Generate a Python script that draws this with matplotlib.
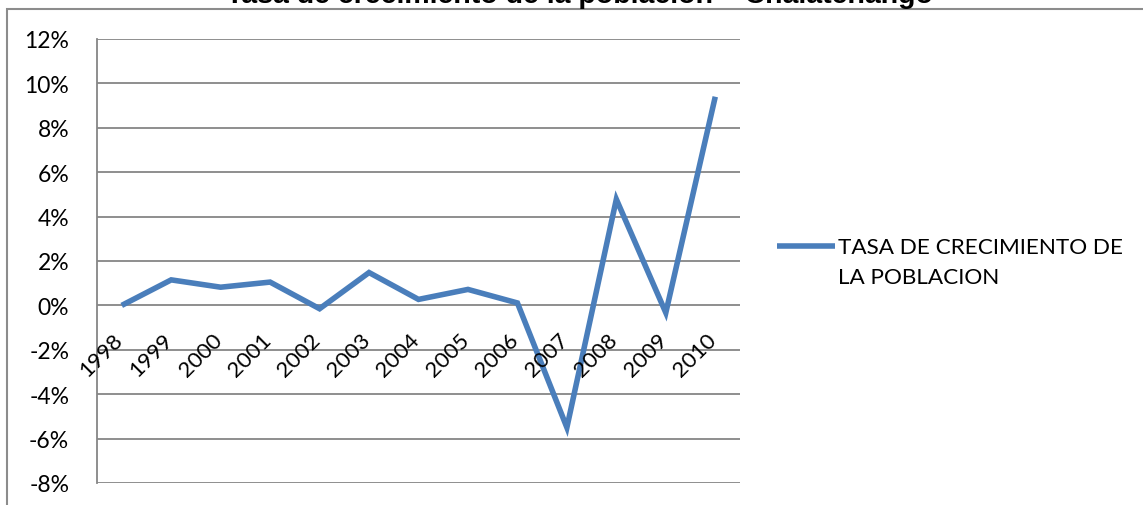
import matplotlib
matplotlib.use("Agg")
import matplotlib.pyplot as plt
from matplotlib.legend_handler import HandlerLine2D
from matplotlib.patches import Rectangle
from matplotlib.ticker import FuncFormatter, MultipleLocator

years = ["1998", "1999", "2000", "2001", "2002", "2003", "2004",
         "2005", "2006", "2007", "2008", "2009", "2010"]
growth_pct = [0.0, 1.15, 0.82, 1.05, -0.15, 1.48, 0.27,
              0.72, 0.11, -5.5, 4.78, -0.33, 9.4]
series_label = "TASA DE CRECIMIENTO DE\nLA POBLACION"
title = "Tasa de crecimiento de la población – Chalatenango"


class TopLineHandler(HandlerLine2D):
    """Legend line sample raised to sit beside the first label line."""

    def __init__(self, lift, **kw):
        super().__init__(**kw)
        self.lift = lift

    def create_artists(self, legend, orig_handle, xdescent, ydescent,
                       width, height, fontsize, trans):
        artists = super().create_artists(legend, orig_handle, xdescent,
                                         ydescent, width, height, fontsize,
                                         trans)
        for a in artists:
            if hasattr(a, "get_ydata"):
                a.set_ydata([y + self.lift for y in a.get_ydata()])
        return artists


W, H = 1143, 506
fig = plt.figure(figsize=(W / 100, H / 100), dpi=100)
plt.rcParams["font.family"] = ["Lato", "DejaVu Sans"]

# chart frame
fig.patches.append(Rectangle((7 / W, -0.1), 1.2, 1 - 10 / H + 0.1,
                             transform=fig.transFigure, fill=False,
                             edgecolor="#8c8c8c", linewidth=1.5))
fig.text(580 / W, 1 - 3 / H, title, ha="center", va="baseline",
         fontsize=20.5, fontweight="bold",
         family=["Liberation Sans", "DejaVu Sans"])

ax = fig.add_axes([97 / W, 1 - 484 / H, (740 - 97) / W, (484 - 40) / H])
x = list(range(len(years)))
line, = ax.plot(x, growth_pct, color="#4a7ebb", linewidth=4,
                solid_joinstyle="miter", solid_capstyle="butt")
ax.set_xlim(-0.5, len(years) - 0.5)
ax.set_ylim(-8, 12)
ax.yaxis.set_major_locator(MultipleLocator(2))
ax.yaxis.set_major_formatter(FuncFormatter(lambda v, p: f"{v:.0f}%"))
ax.grid(axis="y", color="#868686", linewidth=1.3)
ax.set_axisbelow(True)
for s in ["top", "right", "bottom"]:
    ax.spines[s].set_visible(False)
ax.spines["left"].set_color("#868686")
ax.spines["left"].set_linewidth(1.3)
ax.tick_params(axis="y", length=0, pad=20, labelsize=16.5)
ax.set_xticks([])

# category labels along the zero line
for xi, lab in zip(x, years):
    ax.annotate(lab, xy=(xi, 0), xycoords="data", xytext=(-6.5, -17),
                textcoords="offset points", rotation=45, ha="right", va="top",
                rotation_mode="anchor", fontsize=16)

leg = fig.legend([line], [series_label], loc="upper left",
                 bbox_to_anchor=(757 / W, 1 - 218 / H), frameon=False,
                 fontsize=16.2, handlelength=2.55, handletextpad=0.17,
                 labelspacing=0,
                 handler_map={line: TopLineHandler(lift=11.5)})
for t in leg.get_texts():
    t.set_linespacing(1.6)

fig.savefig("out.png", dpi=100)
